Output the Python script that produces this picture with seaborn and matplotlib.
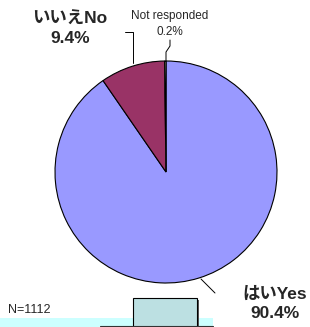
import matplotlib
matplotlib.use("Agg")
import matplotlib.pyplot as plt
from matplotlib.patches import Rectangle
import seaborn as sns

labels = ["はいYes", "いいえNo", "Not responded"]
values = [90.4, 9.4, 0.2]
pct_labels = ["90.4%", "9.4%", "0.2%"]
colors = ["#9999FF", "#993366", "#FFFFCC"]
n_text = "N=1112"

sns.set_theme(style="white")
plt.rcParams["font.family"] = ["Liberation Sans", "Noto Sans CJK JP", "DejaVu Sans"]

W, H = 310, 327
fig = plt.figure(figsize=(W / 100, H / 100), dpi=100)
ax = fig.add_axes([0, 0, 1, 1])

def py(y):
    return H - y

cx, cy, r = 166, py(172), 111
ax.pie(values, colors=colors, startangle=90, counterclock=False,
       center=(cx, cy), radius=r,
       wedgeprops=dict(edgecolor="black", linewidth=0.8))
ax.set_xlim(0, W)
ax.set_ylim(0, H)
ax.set_aspect("equal")
ax.axis("off")

bold_fam = ["Liberation Sans", "Noto Sans CJK JP"]
# Yes label
ax.text(275, py(304), labels[0] + "\n" + pct_labels[0], ha="center", va="center",
        fontsize=12.5, fontweight="bold", family=bold_fam, linespacing=1.4)
ax.plot([201, 215], [py(279), py(293)], color="black", lw=0.7)
# No label
ax.text(70, py(29), labels[1] + "\n" + pct_labels[1], ha="center", va="center",
        fontsize=12.5, fontweight="bold", family=bold_fam, linespacing=1.4)
ax.plot([133, 133, 125], [py(63), py(32), py(32)], color="black", lw=0.7)
# Not responded label
ax.text(170, py(24), labels[2] + "\n" + pct_labels[2], ha="center", va="center",
        fontsize=8.5, family=bold_fam, linespacing=1.35)
ax.plot([166, 166, 170, 170], [py(61), py(52), py(46), py(40)], color="black", lw=0.7)

# bottom decorations
ax.add_patch(Rectangle((0, 0), 213, py(318), facecolor="#CCFFFF", edgecolor="none"))
ax.plot([100, 213], [py(326), py(326)], color="#333333", lw=0.8)
ax.add_patch(Rectangle((135, -5), 64, py(300) + 5, facecolor="#555555", edgecolor="none"))
ax.add_patch(Rectangle((133, -5), 64, py(298) + 5, facecolor="#BCE0E2",
                       edgecolor="black", lw=0.8))
ax.text(8, py(310), n_text, ha="left", va="center", fontsize=9, family=bold_fam)

fig.savefig("out.png", dpi=100)
